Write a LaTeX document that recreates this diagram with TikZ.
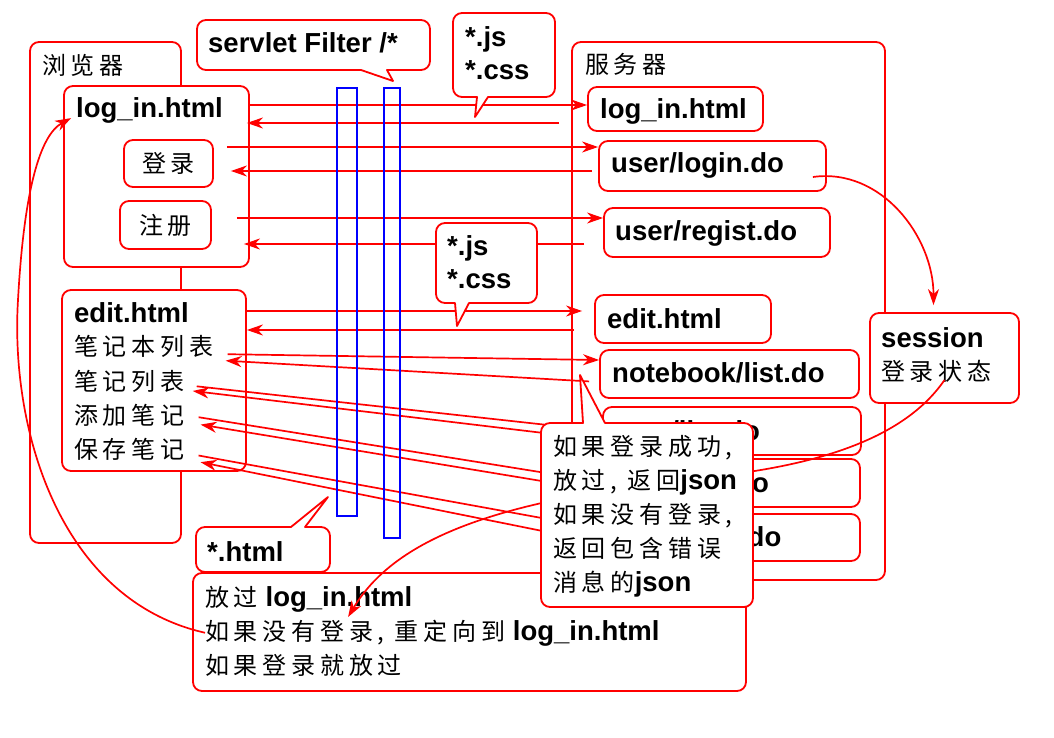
\documentclass[tikz,border=0pt]{standalone}
\usepackage{fontspec}
\setmainfont{Liberation Sans}
\newfontfamily\cjkfont[LetterSpace=20]{Noto Sans CJK SC}
\usetikzlibrary{arrows.meta,calc}
\newcommand\zh[1]{{\fontsize{24}{28}\selectfont\cjkfont\mdseries #1}}
\tikzset{
  redbox/.style={draw=red, line width=1.8pt, rounded corners=9pt, fill=white, inner sep=0pt},
  txt/.style={anchor=base west, inner sep=0pt},
  arr/.style={draw=red, line width=1.7pt, -{Stealth[length=16pt,width=11pt,inset=5pt]}},
  callout/.style={draw=red, line width=1.8pt, fill=white, line join=round},
  bar/.style={draw=blue, line width=2.6pt, inner sep=0pt},
}
\begin{document}
\begin{tikzpicture}[x=1pt,y=-1pt, font=\fontsize{27.5}{32}\selectfont\bfseries]
\useasboundingbox (0,0) rectangle (1054,738);

% browser
\node[redbox, minimum width=151pt, minimum height=501pt] (bout) at (105.5,292.5) {};
\node[txt] (boutT) at (42,75) {\zh{浏览器}};
\node[redbox, minimum width=185pt, minimum height=181pt] (blogin) at (156.5,176.5) {};
\node[txt] (bloginT) at (76,118) {log\_in.html};
\node[redbox, minimum width=89pt, minimum height=47pt] (bdl) at (168.5,163.5) {\zh{登录}};
\node[redbox, minimum width=91pt, minimum height=48pt] (bzc) at (165.5,225) {\zh{注册}};
\node[redbox, minimum width=184pt, minimum height=181pt] (bedit) at (154,380.5) {};
\node[txt] (be1) at (74,322) {edit.html};
\node[txt] (be2) at (74,355) {\zh{笔记本列表}};
\node[txt] (be3) at (74,390) {\zh{笔记列表}};
\node[txt] (be4) at (74,424) {\zh{添加笔记}};
\node[txt] (be5) at (74,458) {\zh{保存笔记}};

% server
\node[redbox, minimum width=313pt, minimum height=538pt] (sout) at (728.5,311) {};
\node[txt] (soutT) at (585,74) {\zh{服务器}};
\node[redbox, minimum width=175pt, minimum height=44pt] (s1) at (675.5,109) {};
\node[txt] (s1T) at (600,119) {log\_in.html};
\node[redbox, minimum width=227pt, minimum height=50pt] (s2) at (712.5,166) {};
\node[txt] (s2T) at (611,173) {user/login.do};
\node[redbox, minimum width=226pt, minimum height=49pt] (s3) at (717,232.5) {};
\node[txt] (s3T) at (615,240) {user/regist.do};
\node[redbox, minimum width=176pt, minimum height=48pt] (s4) at (683,319) {};
\node[txt] (s4T) at (607,328) {edit.html};
\node[redbox, minimum width=259pt, minimum height=48pt] (s5) at (729.5,374) {};
\node[txt] (s5T) at (612,382) {notebook/list.do};
\node[redbox, minimum width=258pt, minimum height=48pt] (s6) at (732,431) {};
\node[txt] (s6T) at (613,440) {note/list.do};
\node[redbox, minimum width=257pt, minimum height=48pt] (s7) at (731.5,483) {};
\node[txt] (s7T) at (613,492) {note/add.do};
\node[redbox, minimum width=257pt, minimum height=47pt] (s8) at (731.5,537.5) {};
\node[txt] (s8T) at (613,546) {note/save.do};

% session
\node[redbox, minimum width=149pt, minimum height=90pt] (sess) at (944.5,358) {};
\node[txt] (sessA) at (881,347) {session};
\node[txt] (sessB) at (881,380) {\zh{登录状态}};

% bottom box
\node[redbox, minimum width=553pt, minimum height=118pt] (bot) at (469.5,632) {};
\node[txt] (bt1) at (205,606) {\zh{放过} log\_in.html};
\node[txt] (bt2) at (205,640) {\zh{如果没有登录, 重定向到} log\_in.html};
\node[txt] (bt3) at (205,674) {\zh{如果登录就放过}};

% connectors
\draw[arr] (blogin.east |- 0,105) -- (s1.west |- 0,105);
\draw[arr, shorten <=28pt, shorten >=-3pt] (s1.west |- 0,123) -- (blogin.east |- 0,123);
\draw[arr, shorten <=13pt] (bdl.east |- 0,147) -- (s2.west |- 0,147);
\draw[arr, shorten <=6pt, shorten >=17pt] (s2.west |- 0,171) -- (bdl.east |- 0,171);
\draw[arr, shorten <=25pt] (bzc.east |- 0,218) -- (s3.west |- 0,218);
\draw[arr, shorten <=19pt, shorten >=-6pt] (s3.west |- 0,244) -- (blogin.east |- 0,244);
\draw[arr, shorten >=12pt] (bedit.east |- 0,311) -- (s4.west |- 0,311);
\draw[arr, shorten <=20pt] (s4.west |- 0,330) -- (bedit.east |- 0,330);
\draw[arr, shorten <=14pt] (be2.east |- 0,354) -- (s5.west |- 0,360);
\draw[arr, shorten <=10pt, shorten >=12pt] (s5.west |- 0,382) -- (be2.east |- 0,360);
\draw[arr, shorten <=12pt] (be3.east |- 0,385) -- (s6.west |- 0,431);
\draw[arr, shorten >=8pt] (s6.west |- 0,440) -- (be3.east |- 0,390);
\draw[arr, shorten <=14pt] (be4.east |- 0,415) -- (s7.west |- 0,482);
\draw[arr, shorten >=16pt] (s7.west |- 0,491) -- (be4.east |- 0,422);
\draw[arr, shorten <=14pt] (be5.east |- 0,453) -- (s8.west |- 0,529);
\draw[arr, shorten >=16pt] (s8.west |- 0,543) -- (be5.east |- 0,459);
\draw[arr] ([xshift=-14pt,yshift=-11pt]s2.east) to[out=8,in=90] ([xshift=-11pt,yshift=7pt]sess.north);
\draw[arr] ([yshift=-22pt]sess.center) .. controls (900,445) and (800,468) .. (700,478) .. controls (520,498) and (400,530) .. ($(bot.west)+(156,-15)$);
\draw[arr] (bt2.west) .. controls (60,600) and (10,430) .. (18,300) .. controls (24,190) and (40,135) .. ($(blogin.north west)+(8,33)$);

% filter bars
\node[bar, minimum width=20pt, minimum height=428pt] (f1) at (347,302) {};
\node[bar, minimum width=16pt, minimum height=450pt] (f2) at (392,313) {};

% callouts
\draw[callout, rounded corners=9pt] (197,45) -- (197,20) -- (430,20) -- (430,70) [sharp corners] -- (387,70) -- (393,81) -- (361,70) [rounded corners=9pt] -- (197,70) -- cycle;
\node[txt] (ctf) at (208,53) {servlet Filter /*};

\draw[callout, rounded corners=9pt] (453,55) -- (453,13) -- (555,13) -- (555,97) [sharp corners] -- (488,97) -- (475,117) -- (477,97) [rounded corners=9pt] -- (453,97) -- cycle;
\node[txt] (cj1a) at (465,47) {*.js};
\node[txt] (cj1b) at (465,80) {*.css};

\draw[callout, rounded corners=9pt] (436,263) -- (436,223) -- (537,223) -- (537,303) [sharp corners] -- (469,303) -- (457,326) -- (455,303) [rounded corners=9pt] -- (436,303) -- cycle;
\node[txt] (cj2a) at (447,255) {*.js};
\node[txt] (cj2b) at (447,288) {*.css};

\draw[callout, rounded corners=9pt] (196,550) -- (196,527) [sharp corners] -- (291,527) -- (328,497) -- (305,527) [rounded corners=9pt] -- (330,527) -- (330,572) -- (196,572) -- cycle;
\node[txt] (cht) at (207,561) {*.html};

\draw[callout, rounded corners=9pt] (541,515) -- (541,423) [sharp corners] -- (583,423) -- (580,375) -- (605,423) [rounded corners=9pt] -- (753,423) -- (753,607) -- (541,607) -- cycle;
\node[txt] (cjs1) at (553,455) {\zh{如果登录成功,}};
\node[txt] (cjs2) at (553,489) {\zh{放过, 返回}json};
\node[txt] (cjs3) at (553,523) {\zh{如果没有登录,}};
\node[txt] (cjs4) at (553,557) {\zh{返回包含错误}};
\node[txt] (cjs5) at (553,591) {\zh{消息的}json};
\end{tikzpicture}
\end{document}
